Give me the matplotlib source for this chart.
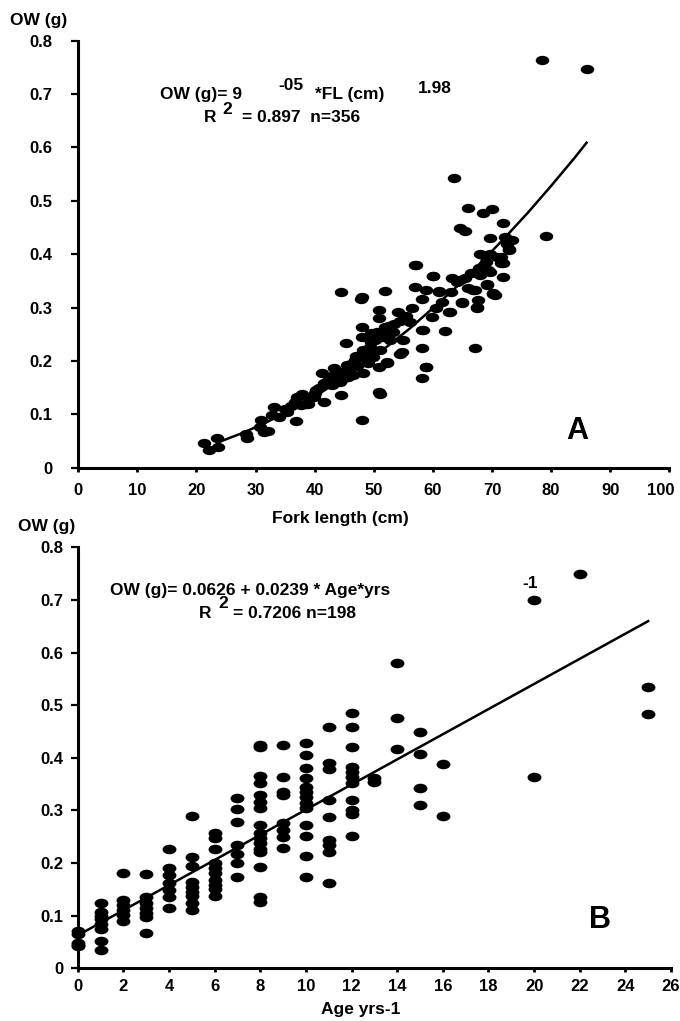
import matplotlib
matplotlib.use("Agg")
import matplotlib.pyplot as plt
from matplotlib.path import Path
from matplotlib.transforms import Affine2D, ScaledTranslation
from matplotlib.ticker import FuncFormatter

# panel A: otolith weight vs fork length
fl_cm = [21.3, 22.2, 23.5, 23.7, 28.4, 28.5, 31.0, 30.7, 32.1, 31.4, 33.2, 32.8, 35.3, 36.7, 36.8, 37.8, 37.6, 38.6,
         37.0, 37.9, 38.9, 39.8, 40.3, 41.2, 41.5, 41.5, 42.9, 43.3, 44.0, 44.3, 44.4, 45.4, 45.3, 44.4, 45.7, 46.5, 46.8,
         47.8, 48.0, 48.0, 48.0, 48.2, 48.2, 49.1, 49.4, 49.6, 49.9, 50.9, 50.9, 50.8, 50.9, 51.0, 51.0, 51.9, 51.9, 52.2, 52.2, 52.7, 53.2,
         54.1, 54.5, 54.7, 54.4, 55.0, 56.1, 57.0, 57.0, 57.1, 58.1, 58.1, 58.1, 58.8, 58.1, 58.4, 58.9, 58.9, 59.8, 60.0, 60.0, 61.1, 62.0, 62.8,
         63.2, 64.0, 64.6, 64.9, 66.0, 67.1, 67.7, 67.5, 67.1, 68.0, 68.5, 69.7, 70.2, 71.6, 71.9, 72.8,
         78.4, 86.0, 63.6, 66.0, 68.5, 70.0, 64.6, 65.4, 71.9, 69.7, 72.2, 73.3, 72.9, 79.1, 68.0, 69.7, 71.5, 71.8,
         68.0, 69.4, 69.1, 70.5, 66.8, 48.0, 51.9, 61.1, 62.9, 64.9, 67.4, 69.1, 70.2,
         39.0, 40.0, 40.8, 42.0, 42.5, 43.5, 44.8, 45.0, 46.0, 46.2, 47.0, 47.2, 48.5, 49.0, 49.5, 50.2,
         50.5, 51.5, 52.5, 53.5, 55.5, 56.5, 60.5, 61.5, 63.0, 65.5, 66.5, 67.8, 69.0, 70.8, 72.5, 34.0, 35.0, 36.0]
ow_fl = [.047, .034, .056, .038, .063, .056, .089, .077, .069, .067, .114, .099, .105, .124, .087, .136, .117, .12,
         .133, .139, .12, .133, .146, .177, .158, .124, .155, .186, .164, .161, .136, .192, .233, .33, .170, .174, .202,
         .317, .264, .244, .089, .220, .177, .196, .227, .252, .208, .295, .280, .189, .142, .220, .139, .264, .331, .199, .196, .239, .255,
         .292, .275, .217, .214, .239, .273, .380, .339, .379, .317, .258, .225, .188, .169, .258, .333, .189, .283, .359, .360, .330, .256, .292,
         .355, .348, .351, .308, .336, .224, .314, .300, .333, .361, .398, .367, .325, .383, .358, .408,
         .763, .747, .543, .486, .478, .485, .450, .444, .459, .431, .433, .426, .409, .434, .401, .401, .395, .383,
         .370, .370, .342, .323, .333, .319, .258, .331, .292, .311, .301, .345, .327,
         .128, .140, .150, .160, .170, .175, .180, .168, .185, .195, .210, .190, .205, .215, .235, .240,
         .255, .245, .265, .270, .285, .300, .300, .310, .330, .355, .365, .375, .385, .395, .420, .095, .110, .115]

# fitted power curve as drawn
fit_fl = [24, 28, 32, 36, 40, 44, 48, 52, 56, 60, 64, 68, 72, 76, 80, 84, 86]
fit_ow_fl = [.049, .066, .086, .109, .134, .161, .192, .225, .260, .299, .339, .383, .429, .477, .528, .581, .609]

# panel B: otolith weight vs age
age_yrs = [0, 0, 0, 0, 0,
           1, 1, 1, 1, 1, 1, 1, 1,
           2, 2, 2, 2, 2, 2,
           3, 3, 3, 3, 3, 3, 3,
           4, 4, 4, 4, 4, 4, 4,
           5, 5, 5, 5, 5, 5, 5, 5, 5,
           6, 6, 6, 6, 6, 6, 6, 6, 6, 6,
           7, 7, 7, 7, 7, 7, 7,
           8, 8, 8, 8, 8, 8, 8, 8, 8, 8, 8, 8, 8, 8, 8, 8,
           9, 9, 9, 9, 9, 9, 9, 9,
           10, 10, 10, 10, 10, 10, 10, 10, 10, 10, 10, 10, 10,
           11, 11, 11, 11, 11, 11, 11, 11, 11,
           12, 12, 12, 12, 12, 12, 12, 12, 12, 12, 12,
           13, 13,
           14, 14, 14,
           15, 15, 15, 15,
           16, 16,
           20, 20,
           22,
           25, 25]
ow_age = [.070, .065, .049, .045, .042,
          .124, .108, .100, .093, .084, .074, .051, .035,
          .182, .129, .120, .110, .101, .089,
          .179, .135, .124, .114, .105, .098, .068,
          .226, .190, .177, .162, .149, .136, .115,
          .290, .212, .195, .165, .155, .146, .138, .124, .111,
          .258, .247, .226, .200, .190, .181, .168, .158, .150, .138,
          .323, .302, .279, .234, .217, .200, .174,
          .425, .421, .366, .353, .330, .317, .304, .272, .257, .247, .238, .226, .222, .193, .136, .127,
          .425, .364, .336, .330, .276, .263, .249, .228,
          .428, .406, .380, .362, .345, .336, .326, .314, .304, .272, .252, .214, .173,
          .458, .391, .378, .320, .288, .244, .234, .222, .163,
          .486, .458, .421, .383, .374, .364, .352, .320, .301, .293, .252,
          .362, .355,
          .580, .475, .417,
          .449, .408, .342, .310,
          .388, .290,
          .701, .364,
          .749,
          .535, .483]

fit_age = [0, 25]
fit_ow_age = [0.0626, 0.66]

plt.rcParams['font.family'] = ['Liberation Sans', 'DejaVu Sans']
plt.rcParams['font.weight'] = 'bold'
plt.rcParams['font.size'] = 12.5

# the dots in the original are squashed circles
oval = Path.unit_circle().transformed(Affine2D().scale(1.45, 1.0))


def style_axes(ax, xpad, ypad):
    for s in ['top', 'right']:
        ax.spines[s].set_visible(False)
    for s in ['left', 'bottom']:
        ax.spines[s].set_linewidth(2.2)
    ax.tick_params(axis='y', direction='out', length=5, width=1.6, pad=ypad, labelsize=12)
    ax.tick_params(axis='x', direction='out', length=3, width=2.0, pad=xpad, labelsize=12)
    ax.yaxis.set_major_formatter(FuncFormatter(lambda v, p: '0' if abs(v) < 1e-9 else f'{v:.1f}'))


fig = plt.figure(figsize=(6.8, 10.21), dpi=100)

ax1 = fig.add_axes([0.1151, 0.5419, 0.8692, 0.4182])
ax1.scatter(fl_cm, ow_fl, s=95, marker=oval, color='black', linewidths=0, zorder=3, clip_on=False)
ax1.plot(fit_fl, fit_ow_fl, color='black', lw=1.8, zorder=4)
ax1.set_xlim(0, 100)
ax1.set_ylim(0, 0.8)
ax1.set_xticks(range(0, 101, 10))
ax1.set_yticks([i / 10 for i in range(9)])
style_axes(ax1, xpad=8, ypad=13.5)
# last label nudged left so it stays on the page
last = ax1.get_xticklabels()[-1]
last.set_transform(last.get_transform() + ScaledTranslation(-6 / 72, 0, fig.dpi_scale_trans))

ax1.text(13.8, .699, 'OW (g)= 9', ha='left', va='center')
ax1.text(33.8, .716, '-05', ha='left', va='center')
ax1.text(40.0, .699, '*FL (cm)', ha='left', va='center')
ax1.text(57.5, .711, '1.98', ha='left', va='center')
ax1.text(21.3, .657, 'R', ha='left', va='center')
ax1.text(24.3, .672, '2', ha='left', va='center')
ax1.text(27.7, .657, '= 0.897  n=356', ha='left', va='center')
ax1.text(84.4, .069, 'A', ha='center', va='center', fontsize=22)

fig.text(10 / 680, 1 - 20 / 1021, 'OW (g)', ha='left', va='center')
fig.text(340 / 680, 1 - 519 / 1021, 'Fork length (cm)', ha='center', va='center')

ax2 = fig.add_axes([0.1143, 0.0516, 0.8725, 0.4122])
ax2.scatter(age_yrs, ow_age, s=100, marker=oval, color='black', linewidths=0, zorder=3, clip_on=False)
ax2.plot(fit_age, fit_ow_age, color='black', lw=1.8, zorder=4)
ax2.set_xlim(0, 26)
ax2.set_ylim(0, 0.8)
ax2.set_xticks(range(0, 27, 2))
ax2.set_yticks([i / 10 for i in range(9)])
style_axes(ax2, xpad=5, ypad=5)

ax2.text(1.42, .719, 'OW (g)= 0.0626 + 0.0239 * Age*yrs', ha='left', va='center')
ax2.text(19.5, .731, '-1', ha='left', va='center')
ax2.text(5.3, .675, 'R', ha='left', va='center')
ax2.text(6.15, .693, '2', ha='left', va='center')
ax2.text(6.8, .675, '= 0.7206 n=198', ha='left', va='center')
ax2.text(22.9, .092, 'B', ha='center', va='center', fontsize=22)

fig.text(18 / 680, 1 - 527 / 1021, 'OW (g)', ha='left', va='center')
fig.text(361 / 680, 1 - 1009 / 1021, 'Age yrs-1', ha='center', va='center')

fig.savefig('out.png', dpi=100)
